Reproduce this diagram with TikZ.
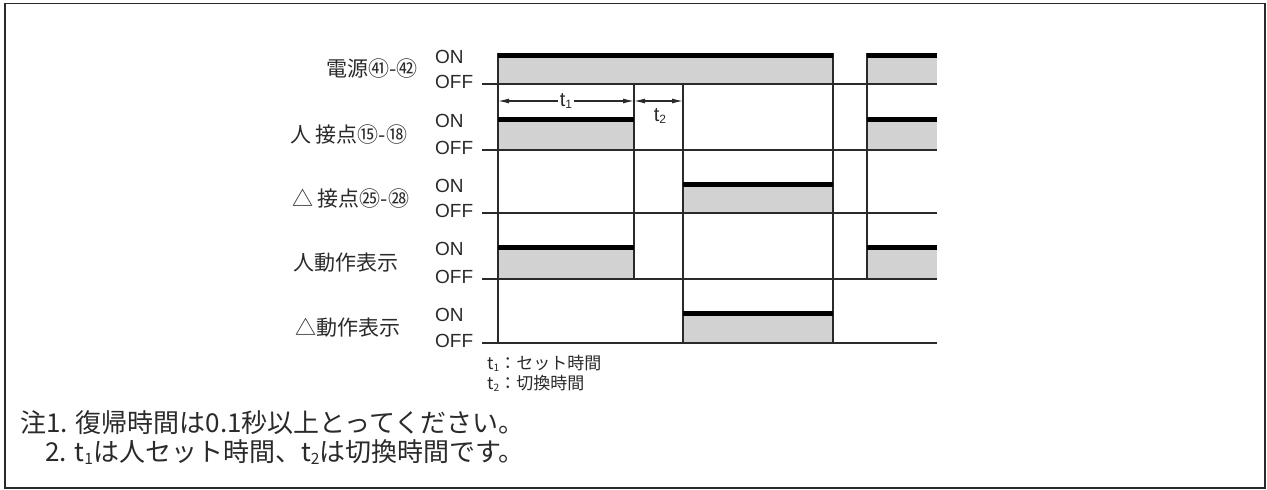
\documentclass[tikz,border=0pt]{standalone}
\usepackage{fontspec}
\setmainfont{Liberation Sans}
\newfontfamily\jp{Noto Sans CJK JP}
\usetikzlibrary{arrows.meta}
\definecolor{fillgray}{HTML}{D2D2D2}
\definecolor{linec}{HTML}{2A2A2A}
\newcommand\mysub[1]{\raisebox{-0.2ex}{\scalebox{0.6}{#1}}}
\begin{document}
\begin{tikzpicture}[x=1pt,y=-1pt,
  sigline/.style={line width=1.4pt, draw=linec},
  onbar/.style={line width=5pt, draw=black},
  onfill/.style={fill=fillgray, draw=none},
  onofftxt/.style={font=\fontsize{19}{20}\selectfont, inner sep=0pt, anchor=west, text=linec},
  rowlab/.style={font=\jp\fontsize{21}{23}\selectfont, inner sep=0pt, text=linec},
  dimline/.style={line width=1.2pt, draw=linec, {Latex[length=11pt,width=5pt]}-{Latex[length=11pt,width=5pt]}},
  legend/.style={font=\jp\fontsize{17}{19}\selectfont, inner sep=0pt, anchor=west, text=linec},
  note/.style={font=\jp\fontsize{26}{28}\selectfont, inner sep=0pt, anchor=west, text=linec}]
\useasboundingbox (0,0) rectangle (1267,490);
\draw[line width=1.5pt, draw=linec] (5,3.5) rectangle (1265,488);

% fills
\foreach \xa/\xb/\top/\off in {498/833/55/84, 867/937/55/84,
  498/634/119/150, 867/937/119/150,
  683/833/184/213,
  498/634/247/279, 867/937/247/279,
  683/833/313/343}{
  \fill[onfill] (\xa,\top) rectangle (\xb,\off);
}
% OFF base lines
\foreach \off in {84,150,213,279,343}{
  \draw[sigline] (482,\off) -- (937,\off);
}
% vertical edges
\draw[sigline] (498,52.5) -- (498,343);
\draw[sigline] (634,84) -- (634,279);
\draw[sigline] (683,84) -- (683,343);
\draw[sigline] (833,52.5) -- (833,343);
\draw[sigline] (867,52.5) -- (867,279);
% ON bars
\foreach \xa/\xb/\top in {498/833/55, 867/937/55,
  498/634/119, 867/937/119,
  683/833/184,
  498/634/247, 867/937/247,
  683/833/313}{
  \draw[onbar] (\xa,\top) -- (\xb,\top);
}
% ON / OFF labels
\foreach \n/\top/\off in {1/55/84, 2/119/150, 3/184/213, 4/247/279, 5/313/343}{
  \node[onofftxt] (on\n) at (435,\top+1.5) {ON};
  \node[onofftxt] (off\n) at (435,\off-2) {OFF};
}
% row labels
\node[rowlab, anchor=east] (lab1) at (418,68.5) {電源㊶-㊷};
\node[rowlab, anchor=west] (lab2) at (290,134.5) {人 接点⑮-⑱};
\node[rowlab, anchor=west] (lab3) at (292,198.5) {△ 接点㉕-㉘};
\node[rowlab, anchor=west] (lab4) at (293,263) {人動作表示};
\node[rowlab, anchor=west] (lab5) at (295,328) {△動作表示};

% time dimensions
\coordinate (d1) at (498,101);
\coordinate (d2) at (634,101);
\coordinate (d3) at (683,101);
\draw[dimline] (d1) -- node[fill=white, inner sep=2pt, font=\fontsize{20}{20}\selectfont, text=linec] (t1lab) {t\mysub{1}} (d2);
\draw[dimline] (d2) -- (d3);
\node[font=\fontsize{20}{20}\selectfont, inner sep=0pt, text=linec] (t2lab) at (660,116) {t\mysub{2}};

% legend
\node[legend] (leg1) at (487,363) {t\mysub{1}：セット時間};
\node[legend] (leg2) at (487,383) {t\mysub{2}：切換時間};

% notes
\node[note] (note1) at (20,423) {注1. 復帰時間は0.1秒以上とってください。};
\node[note] (note2) at (45,452) {2. t\mysub{1}は人セット時間、t\mysub{2}は切換時間です。};
\end{tikzpicture}
\end{document}
